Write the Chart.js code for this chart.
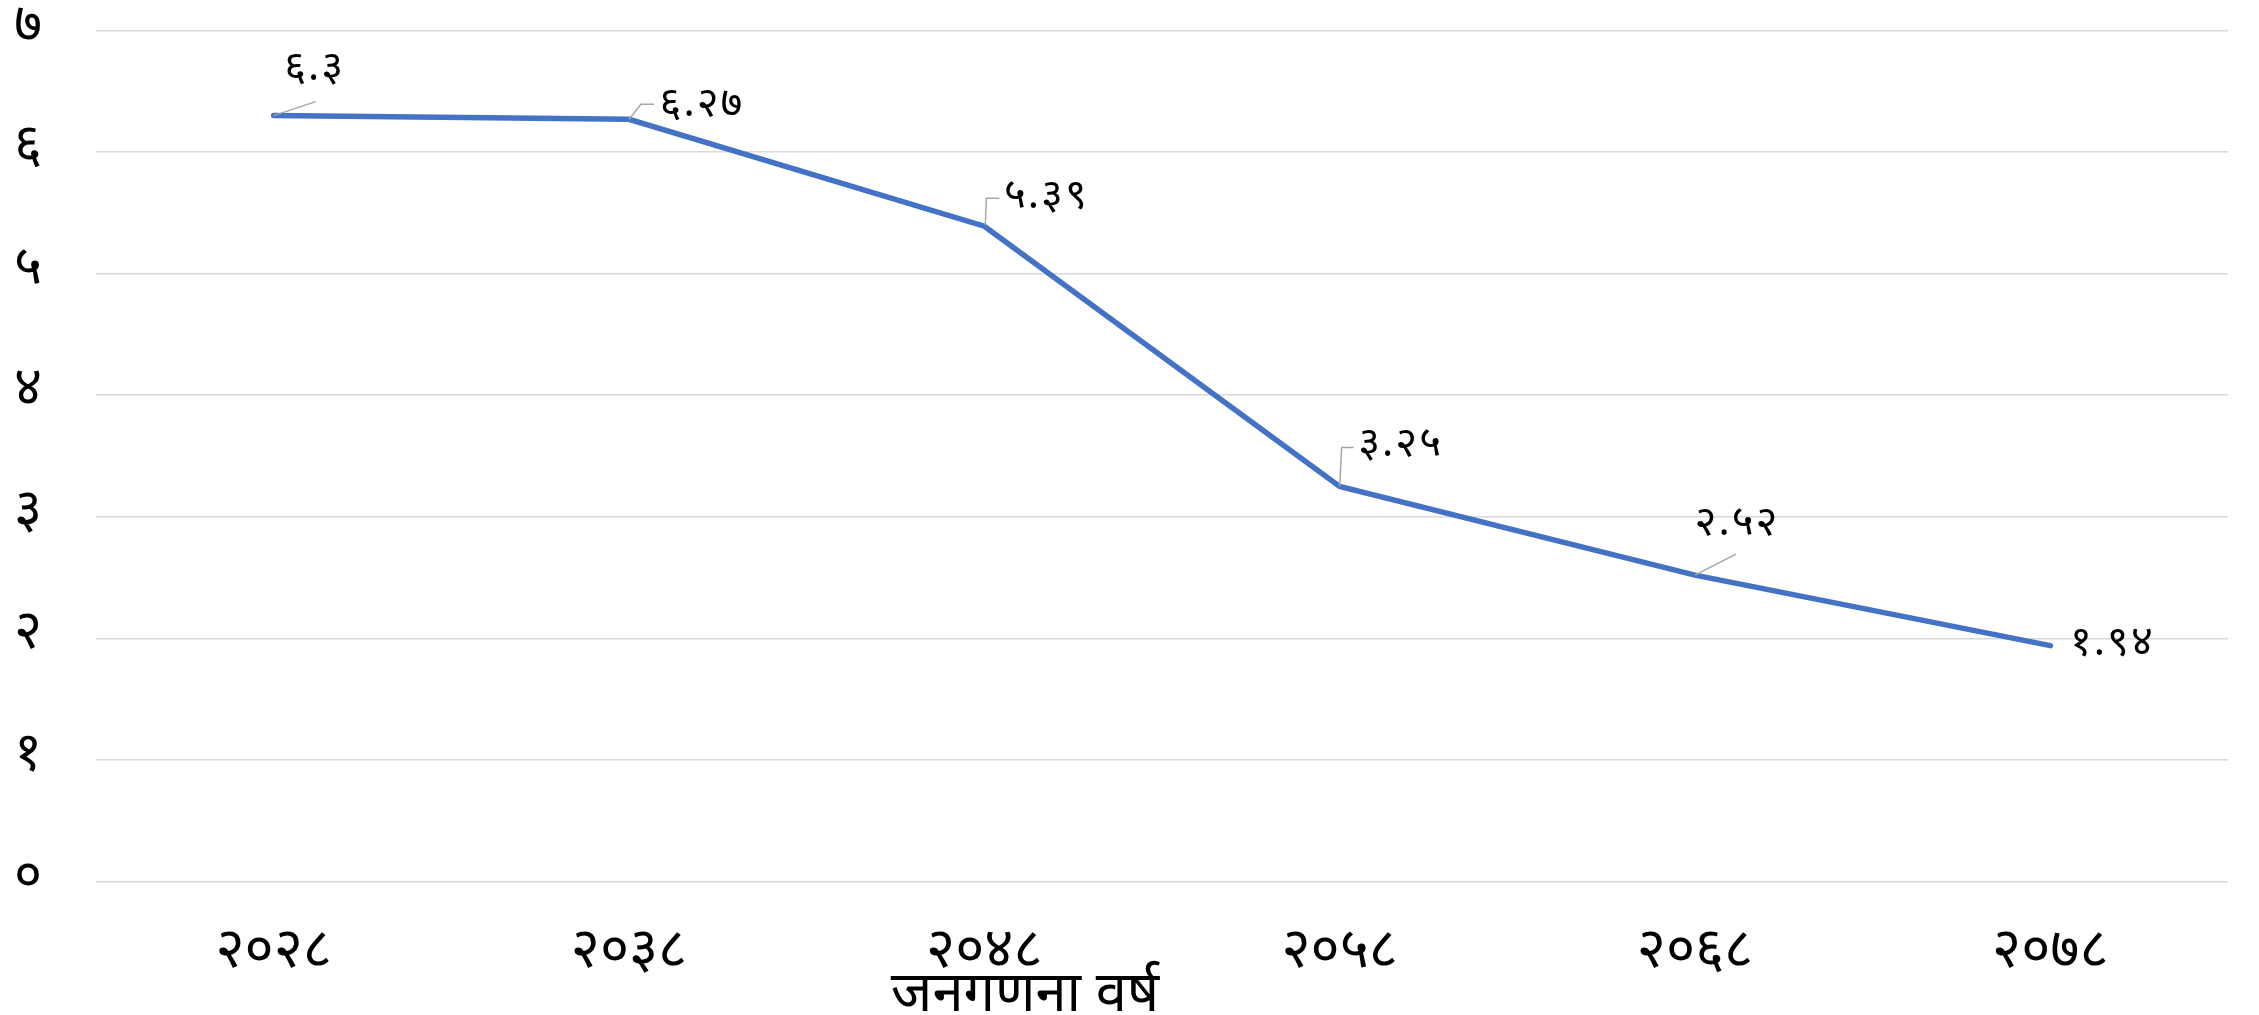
<!DOCTYPE html>
<html>
<head>
<meta charset="utf-8">
<script src="https://cdn.jsdelivr.net/npm/chart.js@4"></script>
<style>
  html, body { margin: 0; padding: 0; background: #fff; }
  #wrap { width: 2259px; height: 1015px; }
</style>
</head>
<body>
<div id="wrap"><canvas id="chart"></canvas></div>
<script>
const years = ['२०२८', '२०३८', '२०४८', '२०५८', '२०६८', '२०७८'];
const values = [6.3, 6.27, 5.39, 3.25, 2.52, 1.94];
const yTickLabels = ['०', '१', '२', '३', '४', '५', '६', '७'];
const axisTitle = 'जनगणना वर्ष';

const FONT = '"Noto Sans Devanagari", "Noto Sans", sans-serif';
const digits = ['०', '१', '२', '३', '४', '५', '६', '७', '८', '९'];
function toDeva(v) {
    return String(v).replace(/[0-9]/g, d => digits[+d]);
}

// label text centre + leader line, relative to the point
const labelOffsets = [
    { dx: 41, dy: -43, line: [[0, 0], [42, -14]] },
    { dx: 73, dy: -11, line: [[0, 0], [12, -15], [25, -15]] },
    { dx: 62, dy: -26, line: [[1, -1], [2, -28], [15, -28]] },
    { dx: 61, dy: -38, line: [[0, 0], [2, -39], [14, -39]] },
    { dx: 42, dy: -48, line: [[0, 0], [41, -21]] },
    { dx: 62, dy: 1, line: null }
];

const dataLabels = {
    id: 'dataLabels',
    afterDatasetsDraw(chart) {
        const ctx = chart.ctx;
        const meta = chart.getDatasetMeta(0);
        ctx.save();
        meta.data.forEach((pt, i) => {
            const o = labelOffsets[i];
            if (o.line) {
                ctx.strokeStyle = '#a6a6a6';
                ctx.lineWidth = 1.5;
                ctx.beginPath();
                o.line.forEach((p, j) => {
                    if (j === 0) ctx.moveTo(pt.x + p[0], pt.y + p[1]);
                    else ctx.lineTo(pt.x + p[0], pt.y + p[1]);
                });
                ctx.stroke();
            }
            ctx.fillStyle = '#000';
            ctx.font = '42px ' + FONT;
            ctx.letterSpacing = '2px';
            ctx.textAlign = 'center';
            ctx.textBaseline = 'middle';
            ctx.fillText(toDeva(values[i]), pt.x + o.dx, pt.y + o.dy);
        });
        ctx.restore();
    }
};

const xTitle = {
    id: 'xTitle',
    afterDraw(chart) {
        const ctx = chart.ctx;
        ctx.save();
        ctx.fillStyle = '#000';
        ctx.font = '56px ' + FONT;
        ctx.textAlign = 'center';
        ctx.textBaseline = 'middle';
        ctx.fillText(axisTitle, 1025, 1001);
        ctx.restore();
    }
};

new Chart(document.getElementById('chart'), {
    type: 'line',
    data: {
        labels: years,
        datasets: [{
            data: values,
            borderColor: '#4472c4',
            borderWidth: 5.5,
            borderCapStyle: 'round',
            pointRadius: 0,
            tension: 0,
            fill: false
        }]
    },
    options: {
        responsive: true,
        maintainAspectRatio: false,
        animation: false,
        layout: { padding: { top: 30.5, right: 31, bottom: 0, left: 14 } },
        plugins: {
            legend: { display: false },
            tooltip: { enabled: false }
        },
        scales: {
            x: {
                offset: true,
                grid: { display: false },
                border: { display: false },
                ticks: {
                    color: '#000',
                    font: { family: FONT, size: 56, lineHeight: 2.4 },
                    padding: 0,
                    maxRotation: 0
                },
                afterFit(scale) { scale.height = 133.5; }
            },
            y: {
                min: 0,
                max: 7,
                ticks: {
                    stepSize: 1,
                    color: '#000',
                    font: { family: FONT, size: 54, lineHeight: 1 },
                    padding: 0,
                    crossAlign: 'far',
                    callback: (v) => yTickLabels[v]
                },
                grid: { color: '#d9d9d9', lineWidth: 1.5, drawTicks: false },
                border: { display: false },
                afterFit(scale) { scale.width = 82; }
            }
        }
    },
    plugins: [dataLabels, xTitle]
});
</script>
</body>
</html>
